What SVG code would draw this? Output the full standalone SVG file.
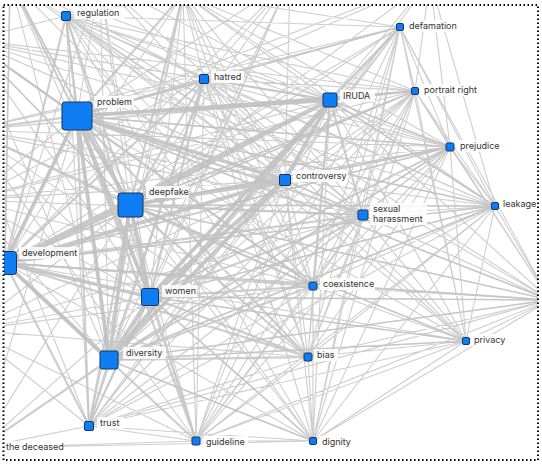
<svg xmlns="http://www.w3.org/2000/svg" width="542" height="467" viewBox="0 0 542 467">
<style>
.e{fill:none;stroke-linecap:round}
.t{stroke:#c2c2c2;stroke-width:1.1;opacity:.8}
.s{stroke:#c2c2c2;stroke-width:1.6;opacity:.75}
.m{stroke:#c2c2c2;stroke-width:2.2;opacity:.8}
.k{stroke:#c0c0c0;stroke-width:3.8;opacity:.85}
.nd{fill:#0f7ef5;stroke:#17365f;stroke-width:1}
.lb{fill:#fff;opacity:.85}
text{font-family:Inter,"Liberation Sans",sans-serif;font-size:9px;fill:#333}
</style>
<defs><clipPath id="c"><rect x="4" y="5" width="534" height="455"/></clipPath></defs>
<rect width="542" height="467" fill="#fff"/>
<g clip-path="url(#c)">
<g id="edges">
<path class="e t" d="M66 16L330 100M66 16L400 27M66 16L415 91M66 16L450 147M66 16L285 180M66 16L363 215M66 16L495 206M66 16L150 297M66 16L109 360M66 16L89 426M66 16L196 441M66 16L313 286M66 16L308 357M66 16L466 341M66 16L313 441M66 16L550 300M66 16L204 79
M204 79L400 27M204 79L415 91M204 79L450 147M204 79L285 180M204 79L363 215M204 79L495 206M204 79L89 426M204 79L196 441M204 79L313 286M204 79L308 357M204 79L466 341M204 79L313 441M204 79L183 -6M204 79L550 300
M77 116L400 27M77 116L415 91M77 116L450 147M77 116L495 206M77 116L466 341M77 116L313 441M77 116L550 300M77 116L-20 448
M130 205L400 27M130 205L415 91M130 205L450 147M130 205L495 206M130 205L196 441M130 205L466 341M130 205L313 441M130 205L550 300M130 205L-20 448
M330 100L450 147M330 100L495 206M330 100L89 426M330 100L196 441M330 100L308 357M330 100L466 341M330 100L313 441M330 100L183 -6M330 100L550 300
M400 27L415 91M400 27L450 147M400 27L285 180M400 27L363 215M400 27L495 206M400 27L5 263M400 27L150 297M400 27L109 360M400 27L89 426M400 27L196 441M400 27L313 286M400 27L308 357M400 27L466 341M400 27L313 441M400 27L183 -6M400 27L550 300
M415 91L450 147M415 91L285 180M415 91L363 215M415 91L495 206M415 91L5 263M415 91L150 297M415 91L109 360M415 91L89 426M415 91L196 441M415 91L313 286M415 91L308 357M415 91L466 341M415 91L313 441M415 91L183 -6M415 91L550 300
M450 147L285 180M450 147L363 215M450 147L495 206M450 147L5 263M450 147L150 297M450 147L109 360M450 147L89 426M450 147L196 441M450 147L313 286M450 147L308 357M450 147L466 341M450 147L313 441M450 147L550 300
M285 180L363 215M285 180L495 206M285 180L89 426M285 180L196 441M285 180L313 286M285 180L308 357M285 180L466 341M285 180L313 441M285 180L183 -6M285 180L550 300
M363 215L495 206M363 215L89 426M363 215L196 441M363 215L313 286M363 215L308 357M363 215L466 341M363 215L313 441M363 215L183 -6M363 215L550 300
M495 206L5 263M495 206L150 297M495 206L109 360M495 206L89 426M495 206L196 441M495 206L313 286M495 206L308 357M495 206L466 341M495 206L313 441M495 206L550 300
M5 263L466 341M5 263L313 441M5 263L183 -6M5 263L550 300
M150 297L89 426M150 297L466 341M150 297L313 441M150 297L550 300M150 297L-20 448
M109 360L466 341M109 360L313 441M109 360L550 300
M89 426L196 441M89 426L313 286M89 426L308 357M89 426L466 341M89 426L313 441M89 426L550 300M89 426L-20 448
M196 441L313 286M196 441L308 357M196 441L466 341M196 441L313 441M196 441L550 300M196 441L-20 448
M313 286L308 357M313 286L466 341M313 286L313 441M313 286L550 300
M308 357L466 341M308 357L313 441M308 357L550 300
M466 341L313 441M466 341L550 300
M313 441L550 300M313 441L-20 448
M-30 40L130 205M-30 40L204 79M-30 40L330 100M-30 40L285 180M-30 40L363 215M-30 40L150 297M-30 40L109 360M-30 40L313 286M-30 40L415 91M-30 40L450 147M-30 40L495 206M-30 40L66 16
M-30 130L204 79M-30 130L330 100M-30 130L285 180M-30 130L363 215M-30 130L313 286M-30 130L308 357M-30 130L150 297M-30 130L450 147M-30 130L400 27M-30 130L415 91M-30 130L89 426M-30 130L196 441
M10 -20L130 205M10 -20L150 297M10 -20L109 360M10 -20L285 180M10 -20L330 100M10 -20L204 79M10 -20L363 215M10 -20L313 286M10 -20L5 263
M290 -20L77 116M290 -20L130 205M290 -20L5 263M290 -20L150 297M290 -20L109 360M290 -20L204 79M290 -20L66 16M290 -20L285 180M290 -20L89 426
M183 -6L196 441M183 -6L89 426M183 -6L313 286M183 -6L308 357M183 -6L466 341M183 -6L495 206M183 -6L450 147M183 -6L150 297M183 -6L109 360M183 -6L66 16M183 -6L5 263
M-30 200L77 116M-30 200L204 79M-30 200L330 100M-30 200L285 180M-30 200L363 215M-30 200L450 147M-30 200L415 91M-30 200L150 297M-30 200L313 286M-30 200L109 360
M-30 330L77 116M-30 330L130 205M-30 330L150 297M-30 330L285 180M-30 330L313 286M-30 330L308 357M-30 330L363 215M-30 330L89 426M-30 330L196 441
M100 -20L77 116M100 -20L130 205M100 -20L150 297M100 -20L285 180M100 -20L330 100M100 -20L5 263M100 -20L109 360M100 -20L363 215
M430 -20L330 100M430 -20L285 180M430 -20L204 79M430 -20L130 205M430 -20L77 116M430 -20L415 91M430 -20L450 147M430 -20L495 206"/>
<path class="e s" d="M77 116L415 91M77 116L450 147M77 116L495 206M77 116L400 27M130 205L415 91M130 205L450 147M130 205L495 206M130 205L466 341M5 263L450 147M5 263L495 206M5 263L415 91M150 297L450 147M150 297L495 206M150 297L466 341M109 360L466 341M109 360L450 147M109 360L495 206M330 100L450 147M330 100L495 206M285 180L450 147M285 180L363 215M77 116L550 300M130 205L550 300M5 263L550 300M150 297L550 300M109 360L550 300M150 297L89 426M77 116L-30 40M130 205L-30 40M130 205L10 -20M5 263L10 -20M109 360L313 441M150 297L313 441"/>
<path class="e m" d="M77 116L66 16M77 116L204 79M77 116L363 215M77 116L313 286M77 116L308 357M77 116L89 426M77 116L196 441M77 116L183 -6
M130 205L66 16M130 205L204 79M130 205L363 215M130 205L313 286M130 205L308 357M130 205L89 426M130 205L183 -6
M5 263L66 16M5 263L204 79M5 263L363 215M5 263L313 286M5 263L308 357M5 263L89 426M5 263L196 441M5 263L-20 448
M150 297L204 79M150 297L363 215M150 297L313 286M150 297L308 357M150 297L196 441
M109 360L204 79M109 360L363 215M109 360L313 286M109 360L308 357M109 360L89 426M109 360L196 441M109 360L-20 448
M330 100L363 215M330 100L204 79M330 100L313 286M330 100L415 91M330 100L400 27
M-30 40L77 116M-30 130L77 116M-30 130L130 205M10 -20L77 116M-30 40L5 263"/>
<path class="e k" d="M77 116L130 205M77 116L5 263M77 116L150 297M77 116L109 360M77 116L330 100M77 116L285 180
M130 205L5 263M130 205L150 297M130 205L109 360M130 205L330 100M130 205L285 180
M5 263L150 297M5 263L109 360M5 263L330 100M5 263L285 180
M150 297L109 360M150 297L330 100M150 297L285 180
M109 360L330 100M109 360L285 180M330 100L285 180"/>
</g>
<g id="n-regulation"><rect class="nd" x="61.5" y="11.5" width="9" height="9" rx="1.5"/><rect class="lb" x="74" y="7" width="50" height="12"/><text x="77" y="16">regulation</text></g>
<g id="n-hatred"><rect class="nd" x="199.5" y="74.5" width="9" height="9" rx="1.5"/><rect class="lb" x="211" y="71" width="33" height="12"/><text x="214" y="80">hatred</text></g>
<g id="n-problem"><rect class="nd" x="62" y="102" width="30" height="28" rx="3"/><rect class="lb" x="94" y="96" width="40" height="12"/><text x="97" y="105">problem</text></g>
<g id="n-deepfake"><rect class="nd" x="118" y="193" width="25" height="24" rx="3"/><rect class="lb" x="146" y="186" width="43" height="12"/><text x="149" y="195">deepfake</text></g>
<g id="n-IRUDA"><rect class="nd" x="323" y="93" width="14" height="14" rx="2"/><rect class="lb" x="340" y="90" width="35" height="12"/><text x="343" y="99">IRUDA</text></g>
<g id="n-defamation"><rect class="nd" x="396.5" y="23.5" width="7" height="7" rx="1.5"/><rect class="lb" x="406" y="20" width="53" height="12"/><text x="409" y="29">defamation</text></g>
<g id="n-portrait-right"><rect class="nd" x="411.5" y="87.5" width="7" height="7" rx="1.5"/><rect class="lb" x="421" y="84" width="63" height="12"/><text x="424" y="93">portrait right</text></g>
<g id="n-prejudice"><rect class="nd" x="446" y="143" width="8" height="8" rx="1.5"/><rect class="lb" x="457" y="140" width="45" height="12"/><text x="460" y="149">prejudice</text></g>
<g id="n-controversy"><rect class="nd" x="279.5" y="174.5" width="11" height="11" rx="1.5"/><rect class="lb" x="293" y="170" width="55" height="12"/><text x="296" y="179">controversy</text></g>
<g id="n-sexual-harassment"><rect class="nd" x="358" y="210" width="10" height="10" rx="1.5"/><rect class="lb" x="370" y="203" width="57" height="22"/><text x="373" y="212">sexual</text><text x="373" y="222">harassment</text></g>
<g id="n-leakage"><rect class="nd" x="491.5" y="202.5" width="7" height="7" rx="1.5"/><rect class="lb" x="500" y="198" width="38" height="12"/><text x="503" y="207">leakage</text></g>
<g id="n-development"><rect class="nd" x="-6.5" y="251.5" width="23" height="23" rx="3"/><rect class="lb" x="19" y="247" width="60" height="12"/><text x="22" y="256">development</text></g>
<g id="n-women"><rect class="nd" x="141.5" y="288.5" width="17" height="17" rx="2"/><rect class="lb" x="162" y="285" width="35" height="12"/><text x="165" y="294">women</text></g>
<g id="n-diversity"><rect class="nd" x="100" y="351" width="18" height="18" rx="2"/><rect class="lb" x="123" y="347" width="43" height="12"/><text x="126" y="356">diversity</text></g>
<g id="n-trust"><rect class="nd" x="84.5" y="421.5" width="9" height="9" rx="1.5"/><rect class="lb" x="97" y="417" width="27" height="12"/><text x="100" y="426">trust</text></g>
<g id="n-guideline"><rect class="nd" x="192" y="437" width="8" height="8" rx="1.5"/><rect class="lb" x="203" y="436" width="45" height="12"/><text x="206" y="445">guideline</text></g>
<g id="n-the-deceased"><rect class="lb" x="5" y="441" width="58" height="12"/><text x="6" y="450">the deceased</text></g>
<g id="n-coexistence"><rect class="nd" x="309" y="282" width="8" height="8" rx="1.5"/><rect class="lb" x="320" y="278" width="55" height="12"/><text x="323" y="287">coexistence</text></g>
<g id="n-bias"><rect class="nd" x="304" y="353" width="8" height="8" rx="1.5"/><rect class="lb" x="314" y="349" width="24" height="12"/><text x="317" y="358">bias</text></g>
<g id="n-privacy"><rect class="nd" x="462.5" y="337.5" width="7" height="7" rx="1.5"/><rect class="lb" x="471" y="334" width="38" height="12"/><text x="474" y="343">privacy</text></g>
<g id="n-dignity"><rect class="nd" x="309.5" y="437.5" width="7" height="7" rx="1.5"/><rect class="lb" x="319" y="436" width="35" height="12"/><text x="322" y="445">dignity</text></g>
</g>
<rect x="3.5" y="5" width="534.5" height="455" fill="none" stroke="#000" stroke-width="2" stroke-dasharray="1.5 2.5"/>
</svg>
